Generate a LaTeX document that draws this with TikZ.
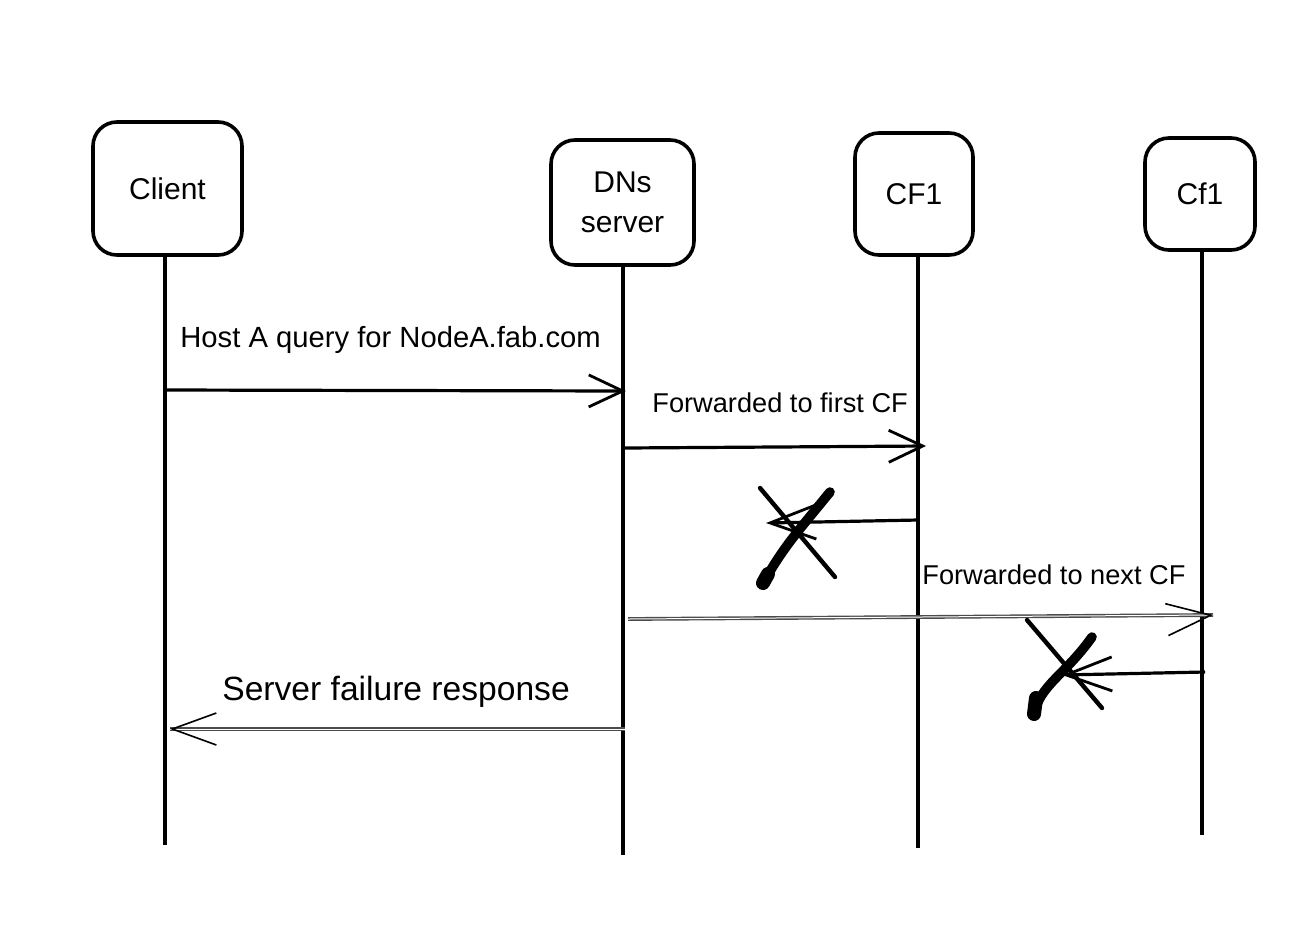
\documentclass[tikz,border=0pt]{standalone}
\usepackage{fontspec}
\setmainfont{Liberation Sans}
\usetikzlibrary{arrows.meta}
\begin{document}
\begin{tikzpicture}[x=0.5pt,y=-0.5pt,
  actor/.style={draw=black,line width=1.8pt,rounded corners=12pt,fill=white,align=center,
    font=\fontsize{15}{20}\selectfont,inner sep=0pt},
  life/.style={line width=1.7pt},
  msg/.style={line width=1.6pt,-{Straight Barb[length=17pt,width=16pt,line width=1.4pt]}},
  lost/.style={line width=1.6pt,-{Straight Barb[length=23pt,width=17pt,line width=1.4pt]}},
  dbl/.style={draw=black!70,line width=0.7pt,double=white,double distance=0.5pt},
  thintip/.style={line width=0.8pt,-{Straight Barb[length=22pt,width=16pt,line width=0.8pt]}},
  thinx/.style={line width=2.2pt,line cap=round},
  thickx/.style={line width=4.8pt,line cap=round,line join=round},
  lbl/.style={anchor=west,inner sep=0pt,font=\fontsize{13.6}{16}\selectfont},
  biglbl/.style={anchor=west,inner sep=0pt,font=\fontsize{16.8}{19}\selectfont}
]
\useasboundingbox (0,0) rectangle (1309,948);

% actors
\node[actor,minimum width=74.5pt,minimum height=66.5pt] (client) at (167.5,188.5) {Client};
\node[actor,minimum width=71.5pt,minimum height=62.5pt] (dns) at (622.5,202.5) {DNs\\server};
\node[actor,minimum width=59pt,minimum height=61pt] (cfa) at (914,194) {CF1};
\node[actor,minimum width=55pt,minimum height=56pt] (cfb) at (1200,194) {Cf1};

% lifeline ends
\coordinate (clientend) at (165,845);
\coordinate (dnsend) at (623,855);
\coordinate (cfaend) at (918,848);
\coordinate (cfbend) at (1202,835);
\draw[life] (client.south -| clientend) -- (clientend);
\draw[life] (dns.south -| dnsend) -- (dnsend);
\draw[life] (cfa.south -| cfaend) -- (cfaend);
\draw[life] (cfb.south -| cfbend) -- (cfbend);

% message points
\coordinate (m1s) at (165,390);
\coordinate (m1e) at (626,391);
\coordinate (m2s) at (625,448);
\coordinate (m2e) at (926,446);
\coordinate (m3s) at (918,520);
\coordinate (m3e) at (766,523);
\coordinate (m4s) at (628,619);
\coordinate (m4e) at (1213,615);
\coordinate (m4t) at (1211,615.2);
\coordinate (m5s) at (1205,672);
\coordinate (m5e) at (1062,675);
\coordinate (m6s) at (625,729);
\coordinate (m6e) at (170,729);
\coordinate (m6t) at (172,729);

% messages
\draw[msg] (m1s) -- (m1e);
\node[lbl,font=\fontsize{14.6}{17}\selectfont] (l1) at (180,340) {Host A query for NodeA.fab.com};

\draw[msg] (m2s) -- (m2e);
\node[lbl] (l2) at (652,403) {Forwarded to first CF};

\draw[lost] (m3s) -- (m3e);
\draw[thinx] (760,488) -- (835,577);
\draw[thickx] (830,492) .. controls (795,535) and (785,545) .. (763,583);
\draw[line width=7pt,line cap=round] (768,574) -- (763,583);

\draw[dbl] (m4s) -- (m4e);
\draw[thintip] (m4t) -- (m4e);
\node[lbl] (l4) at (922,575) {Forwarded to next CF};

\draw[lost] (m5s) -- (m5e);
\draw[thinx] (1027,620) -- (1102,708);
\draw[thickx] (1092,637) .. controls (1065,675) and (1040,685) .. (1034,714);
\draw[line width=7pt,line cap=round] (1036,698) -- (1034,714);

\draw[dbl] (m6s) -- (m6e);
\draw[thintip] (m6t) -- (m6e);
\node[biglbl] (l6) at (222,692) {Server failure response};
\end{tikzpicture}
\end{document}
